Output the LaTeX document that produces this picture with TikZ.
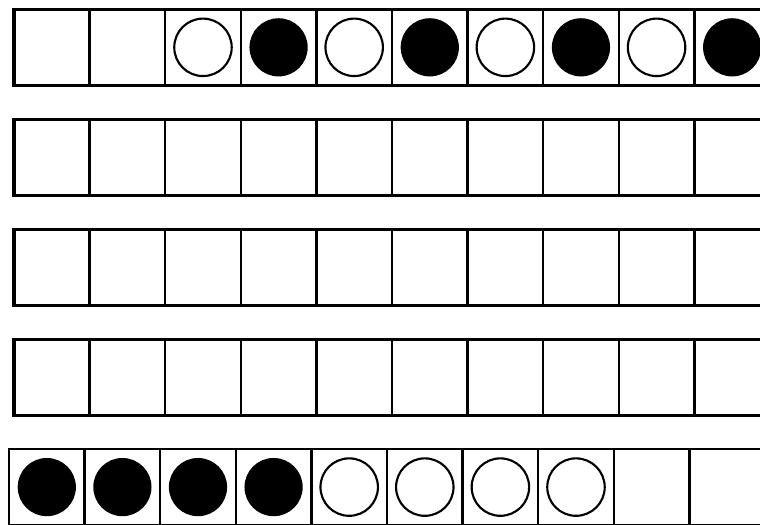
\documentclass[tikz,border=0pt]{standalone}
\usepackage{tikz}
\usetikzlibrary{shapes}

\begin{document}
\begin{tikzpicture}[
    cell/.style={draw, line width=0.85pt, minimum size=1cm, inner sep=0pt, outer sep=0pt},
    frame/.style={line width=1.15pt},
    hole/.style={circle, draw, line width=0.8pt, minimum size=0.76cm, inner sep=0pt},
    bead/.style={circle, fill=black, minimum size=0.77cm, inner sep=0pt}]
    \clip (0,0) rectangle (10.053,-6.944);

    % four empty rows
    \foreach \r in {1,...,4} {
        \foreach \c in {1,...,10}
            \node[cell] (r\r-\c) at (\c-0.315, {-0.626-1.455*(\r-1)}) {};
        \draw[frame] (r\r-1.north west) rectangle (r\r-10.south east);
    }
    % last row, shifted a bit to the left
    \foreach \c in {1,...,10}
        \node[cell] (r5-\c) at (\c-0.381, -6.443) {};
    \draw[line width=0.9pt] (r5-1.north west) rectangle (r5-10.south east);

    % counters in the first row
    \foreach \c in {3,5,7,9}
        \node[hole] (h1-\c) at (r1-\c) {};
    \foreach \c in {4,6,8,10}
        \node[bead] (b1-\c) at (r1-\c) {};

    % counters in the last row
    \foreach \c in {1,...,4}
        \node[bead] (b5-\c) at (r5-\c) {};
    \foreach \c in {5,...,8}
        \node[hole] (h5-\c) at (r5-\c) {};
\end{tikzpicture}
\end{document}
